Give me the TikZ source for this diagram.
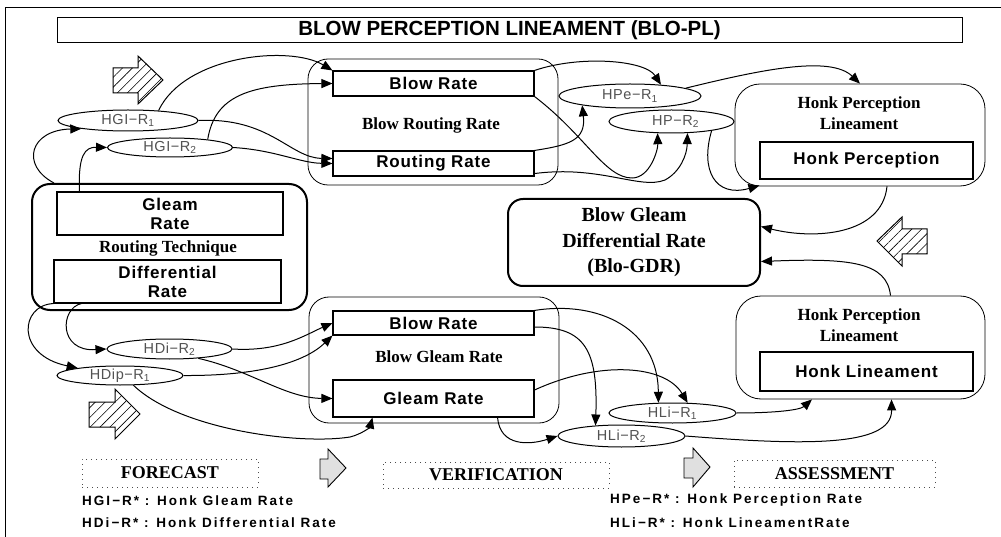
\documentclass[tikz,border=0pt]{standalone}
\usepackage{fontspec}
\setmainfont{Liberation Serif}
\newfontfamily\titlefont{Liberation Sans}
\newfontfamily\boxfont[LetterSpace=5]{Liberation Sans}
\newfontfamily\legfont[LetterSpace=15]{Liberation Sans}
\newfontfamily\ellfont[LetterSpace=4]{Liberation Sans}
\usetikzlibrary{arrows.meta,patterns.meta,shapes.geometric}

\begin{document}
\begin{tikzpicture}[x=1pt,y=-1pt,
  conn/.style={line width=1pt,-{Triangle[length=11pt,width=9pt]}},
  ratebox/.style={draw,line width=1.1pt,inner sep=0pt,align=center,
    font=\boxfont\bfseries\fontsize{17}{19}\selectfont},
  group/.style={draw,rounded corners=20pt,line width=0.8pt,inner sep=0pt},
  thickgroup/.style={draw,rounded corners=18pt,line width=2pt,inner sep=0pt},
  grouptitle/.style={inner sep=0pt,align=center,font=\bfseries\fontsize{17}{21}\selectfont},
  hrate/.style={ellipse,draw,line width=1pt,fill=white,inner sep=0pt,
    text height=10pt,text depth=2pt,text=black!68,
    font=\ellfont\fontsize{14.5}{16}\selectfont},
  hatcharrow/.style={draw,line width=1pt,pattern={Lines[angle=45,distance=7pt,line width=0.6pt]}},
  steparrow/.style={draw,line width=0.9pt,fill=black!12},
  stagebox/.style={draw=black!70,line width=0.9pt,dash pattern=on 1pt off 4pt,inner sep=0pt,
    font=\bfseries\fontsize{18}{20}\selectfont},
  legend/.style={anchor=west,inner sep=0pt,font=\legfont\bfseries\fontsize{13.5}{15}\selectfont}
]
\useasboundingbox (0,0) rectangle (1001,537);

% outer frame
\draw[line width=0.8pt] (5,540) -- (5,7) -- (1004,7);

% title bar
\node[draw,line width=1pt,minimum width=905pt,minimum height=25pt,inner sep=0pt,
  font=\titlefont\bfseries\fontsize{20.5}{22}\selectfont] (title) at (509.5,30.5)
  {BLOW PERCEPTION LINEAMENT (BLO-PL)};

% routing technique group
\node[thickgroup,minimum width=275pt,minimum height=126pt] (rt) at (169.5,247) {};
\node[ratebox,minimum width=226pt,minimum height=43pt] (gr) at (170,213.5) {Gleam\\Rate};
\node[ratebox,minimum width=227pt,minimum height=43pt] (dr) at (167.5,281.5) {Differential\\Rate};
\node[grouptitle] (rtT) at (168,248) {Routing Technique};

% blow routing rate group
\node[group,minimum width=250pt,minimum height=126pt] (brr) at (433,122) {};
\node[ratebox,minimum width=201pt,minimum height=25pt] (brA) at (433.5,83.5) {Blow Rate};
\node[ratebox,minimum width=201pt,minimum height=25pt] (rrA) at (433.5,163.5) {Routing Rate};
\node[grouptitle] (brrT) at (431,125) {Blow Routing Rate};

% blow gleam rate group
\node[group,minimum width=250pt,minimum height=126pt] (bgr) at (434,360) {};
\node[ratebox,minimum width=201pt,minimum height=24pt] (brB) at (433.5,323) {Blow Rate};
\node[ratebox,minimum width=201pt,minimum height=37pt] (grB) at (433.5,398.5) {Gleam Rate};
\node[grouptitle] (bgrT) at (439,357) {Blow Gleam Rate};

% honk perception lineament groups
\node[group,rounded corners=25pt,minimum width=250pt,minimum height=102pt] (hpl) at (860,135) {};
\node[ratebox,minimum width=213pt,minimum height=37pt] (hp) at (866.5,160.5) {Honk Perception};
\node[grouptitle] (hplT) at (859,113) {Honk Perception\\Lineament};

\node[group,rounded corners=25pt,minimum width=249pt,minimum height=103pt] (hll) at (860.5,347.5) {};
\node[ratebox,minimum width=213pt,minimum height=39pt] (hl) at (866.5,371.5) {Honk Lineament};
\node[grouptitle] (hllT) at (859,325) {Honk Perception\\Lineament};

% central result
\node[thickgroup,rounded corners=15pt,minimum width=252pt,minimum height=87pt,align=center,
  font=\bfseries\fontsize{20}{25.5}\selectfont] (gdr) at (634,242.5)
  {Blow Gleam\\Differential Rate\\(Blo-GDR)};

% honk rate ellipses
\node[hrate,minimum width=140pt,minimum height=21pt] (hgi1) at (128,120.5) {HGI−R\textsubscript{1}};
\node[hrate,minimum width=125pt,minimum height=19pt] (hgi2) at (170,147.5) {HGI−R\textsubscript{2}};
\node[hrate,minimum width=142pt,minimum height=24pt] (hpe1) at (630,96) {HPe−R\textsubscript{1}};
\node[hrate,minimum width=125pt,minimum height=23pt] (hp2) at (671.5,121.5) {\hspace*{8pt}HP−R\textsubscript{2}};
\node[hrate,minimum width=125pt,minimum height=20pt] (hdi2) at (169.5,349) {HDi−R\textsubscript{2}};
\node[hrate,minimum width=126pt,minimum height=19pt] (hdip1) at (120,375.5) {HDip−R\textsubscript{1}};
\node[hrate,minimum width=127pt,minimum height=20pt] (hli1) at (672.5,413) {HLi−R\textsubscript{1}};
\node[hrate,minimum width=127pt,minimum height=22pt] (hli2) at (621.5,436) {HLi−R\textsubscript{2}};

% hatched direction arrows
\draw[hatcharrow] (113,68) -- (138,68) -- (138,56) -- (163,80) -- (138,104) -- (138,93) -- (113,93) -- cycle;
\draw[hatcharrow] (89,402) -- (115,402) -- (115,389) -- (140,414) -- (115,439) -- (115,427) -- (89,427) -- cycle;
\draw[hatcharrow] (927,229) -- (902,229) -- (902,217) -- (877,241) -- (902,266) -- (902,254) -- (927,254) -- cycle;

% stage arrows
\draw[steparrow] (320,459) -- (328,459) -- (328,449) -- (346,468) -- (328,487) -- (328,479) -- (320,479) -- cycle;
\draw[steparrow] (684,458) -- (693,458) -- (693,448) -- (710,467) -- (693,487) -- (693,478) -- (684,478) -- cycle;

% stages
\node[stagebox,minimum width=176pt,minimum height=28pt] (fc) at (170,473) {FORECAST};
\node[stagebox,minimum width=226pt,minimum height=26pt] (vf) at (496,475) {VERIFICATION};
\node[stagebox,minimum width=201pt,minimum height=27pt] (as) at (834.5,473.5) {ASSESSMENT};

% legend
\node[legend] (lg1) at (82,501) {HGI−R* : Honk Gleam Rate};
\node[legend] (lg2) at (82,523) {HDi−R* : Honk Differential Rate};
\node[legend] (lg3) at (610,500) {HPe−R* : Honk Perception Rate};
\node[legend] (lg4) at (610,523) {HLi−R* : Honk LineamentRate};

% forecast connectors
\draw[conn] ([xshift=23pt]rt.north west) .. controls (20,165) and (30,130) .. (hgi1.190);
\draw[conn] ([xshift=23pt]gr.north west) .. controls (78,155) and (85,147) .. (hgi2.west);
\draw[conn] (hgi1.18) .. controls (185,55) and (290,45) .. (brA.north west);
\draw[conn] (hgi2.12) .. controls (215,95) and (250,84) .. (brA.west);
\draw[conn] (hgi1.east) .. controls (270,117) and (290,158) .. ([yshift=5pt]rrA.west);
\draw[conn] (hgi2.east) .. controls (275,150) and (300,163) .. (rrA.west);

\draw[conn] (dr.south west) .. controls (20,305) and (15,355) .. (hdip1.170);
\draw[conn] ([xshift=28pt]dr.south west) .. controls (60,308) and (58,352) .. (hdi2.west);
\draw[conn] (hdi2.east) .. controls (280,352) and (305,335) .. (brB.west);
\draw[conn] (hdip1.east) .. controls (260,376) and (305,362) .. (brB.south west);
\draw[conn] (hdi2.-18) .. controls (250,370) and (285,398) .. (grB.west);
\draw[conn] (hdip1.-36) .. controls (180,430) and (300,445) .. (350,437)
  .. controls (362,434) and (370,427) .. ([xshift=40pt]grB.south west);

% verification connectors
\draw[conn] (brA.north east) .. controls (580,55) and (645,60) .. (hpe1.20);
\draw[conn] (brA.south east) .. controls (585,135) and (605,178) .. (632,178)
  .. controls (650,178) and (658,150) .. (hp2.220);
\draw[conn] (rrA.north east) .. controls (570,145) and (586,140) .. (hpe1.191);
\draw[conn] ([yshift=3pt]rrA.south east) .. controls (600,165) and (640,190) .. (665,180)
  .. controls (680,172) and (687,155) .. (hp2.-36);

\draw[conn] (brB.north east) .. controls (600,300) and (658,330) .. (hli1.144);
\draw[conn] ([yshift=-4pt]brB.east) .. controls (585,327) and (598,350) .. (hli2.158);
\draw[conn] ([yshift=8.5pt]grB.east) .. controls (600,360) and (665,365) .. (hli1.34);
\draw[conn] ([xshift=-37pt]grB.south east) .. controls (500,447) and (530,445) .. (hli2.west);

% assessment connectors
\draw[conn] (hpe1.8) .. controls (760,70) and (830,55) .. (hpl.north);
\draw[conn] (hp2.-13) .. controls (700,170) and (715,198) .. ([yshift=-6pt]hp.south west);
\draw[conn] (hli1.east) .. controls (775,413) and (800,410) .. ([xshift=-48.5pt]hll.south);
\draw[conn] (hli2.east) .. controls (800,445) and (892,448) .. ([xshift=31pt]hll.south);

\draw[conn] ([xshift=27pt]hpl.south) .. controls (882,235) and (815,240) .. ([yshift=16pt]gdr.east);
\draw[conn] ([xshift=30pt]hll.north) .. controls (887,262) and (850,258) .. ([yshift=-19pt]gdr.east);
\end{tikzpicture}
\end{document}
